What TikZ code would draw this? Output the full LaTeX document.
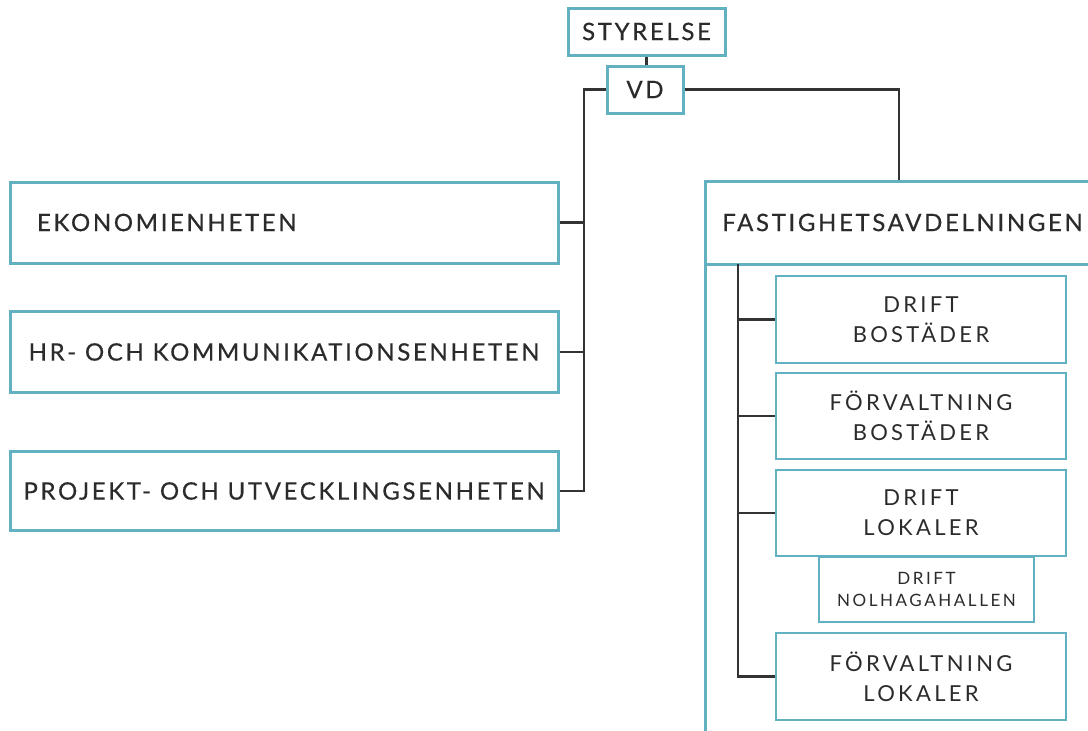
\documentclass[tikz,border=0pt]{standalone}
\usepackage{fontspec}
\setmainfont{Lato}[LetterSpace=15]
\newfontfamily\headfont{Lato}[LetterSpace=11,FakeBold=0.4]
\usetikzlibrary{positioning}

\definecolor{orgblue}{HTML}{62B1C2}
\definecolor{textgrey}{HTML}{2B2B2B}
\definecolor{linegrey}{HTML}{333333}

\tikzset{
  unit/.style={draw=orgblue, line width=3pt, fill=white, inner sep=0pt,
    text=textgrey, font=\headfont\fontsize{24}{28}\selectfont},
  subunit/.style={draw=orgblue, line width=1.5pt, fill=white, inner sep=0pt,
    minimum width=290pt, align=center, text=textgrey,
    font=\fontsize{22}{30}\selectfont},
  link/.style={draw=linegrey, line width=2.2pt},
}

\begin{document}
\begin{tikzpicture}[x=1pt,y=-1pt]
\useasboundingbox (0,0) rectangle (1088,731);

% top
\node[unit, minimum width=157pt, minimum height=47pt] (styr) at (646.5,31.5) {STYRELSE};
\node[unit, minimum width=76pt, minimum height=47pt] (vd) at (645,89.5) {VD};

% left units
\node[unit, minimum width=548pt, minimum height=81pt, text width=494pt, align=left] (ekon) at (284,222.5) {EKONOMIENHETEN};
\node[unit, minimum width=548pt, minimum height=81pt] (hr) at (284,352) {HR- OCH KOMMUNIKATIONSENHETEN};
\node[unit, minimum width=548pt, minimum height=79pt] (proj) at (284,491) {PROJEKT- OCH UTVECKLINGSENHETEN};

% fastighetsavdelningen
\draw[draw=orgblue, line width=3pt] (705,264) -- (705,760);
\node[unit, minimum width=395pt, minimum height=83pt] (fast) at (902.5,222.5) {FASTIGHETSAVDELNINGEN};

\node[subunit, minimum height=87pt] (drb) at (921,319.5) {DRIFT\\BOSTÄDER};
\node[subunit, minimum height=86pt] (fvb) at (921,416) {FÖRVALTNING\\BOSTÄDER};
\node[subunit, minimum height=86pt] (drl) at (921,513) {DRIFT\\LOKALER};
\node[subunit, minimum width=215pt, minimum height=65pt,
  font=\fontsize{17}{22}\selectfont] (nol) at (926.5,589.5) {DRIFT\\NOLHAGAHALLEN};
\node[subunit, minimum height=87pt] (fvl) at (921,676.5) {FÖRVALTNING\\LOKALER};

% connectors
\coordinate (ltrunk) at (584,89.5);
\coordinate (rtrunk) at (899,89.5);
\coordinate (ftrunk) at (738,264);

\draw[link] (styr.south) -- (styr.south |- vd.north);
\draw[link] (vd.west) -- (ltrunk) |- (proj.east);
\draw[link] (ekon.east) -- (ekon.east -| ltrunk);
\draw[link] (hr.east) -- (hr.east -| ltrunk);
\draw[link] (vd.east) -- (rtrunk) -- (rtrunk |- fast.north);
\draw[link] (ftrunk) |- (fvl.west);
\foreach \n in {drb,fvb,drl}
  \draw[link] (\n.west -| ftrunk) -- (\n.west);
\end{tikzpicture}
\end{document}
